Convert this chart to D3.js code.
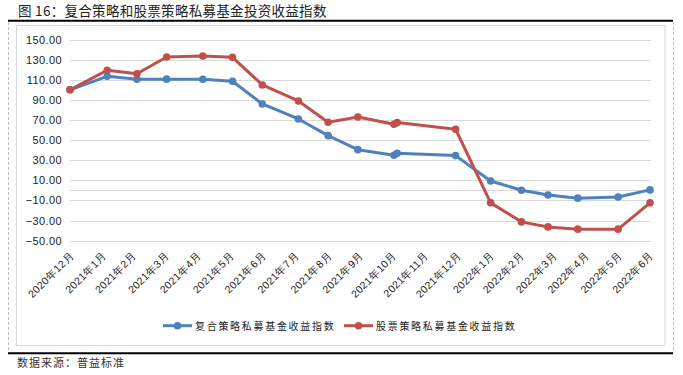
<!DOCTYPE html>
<html><head><meta charset="utf-8">
<script src="https://cdn.jsdelivr.net/npm/d3@7"></script>
<style>
body{margin:0;background:#fff;}
svg{display:block;font-family:"Noto Sans CJK SC","Noto Sans",sans-serif;}
</style></head>
<body>
<svg id="c" width="683" height="375"></svg>
<script>
const title = "图 16：复合策略和股票策略私募基金投资收益指数";
const source = "数据来源：普益标准";
const seriesNames = ["复合策略私募基金收益指数", "股票策略私募基金收益指数"];
const dates = ["2020-12-31","2021-02-04","2021-03-04","2021-04-01","2021-05-05","2021-06-02","2021-06-30","2021-08-03","2021-08-31","2021-09-28","2021-11-01","2021-11-04","2021-12-29","2022-01-31","2022-03-01","2022-03-26","2022-04-23","2022-05-31","2022-06-30"];
const compositeValues = [100, 113.4, 110.5, 110.6, 110.5, 108.5, 85.9, 71.0, 54.4, 40.5, 35.0, 37.0, 34.6, 9.4, 0.2, -4.5, -7.7, -6.5, 0.5];
const stockValues = [100, 119.4, 116.0, 132.6, 133.6, 132.3, 104.8, 88.9, 67.7, 73.0, 65.8, 67.4, 60.8, -12.4, -31.3, -36.3, -38.5, -38.5, -12.4];
const tickDates = ["2020-12-31","2021-01-31","2021-02-28","2021-03-31","2021-04-30","2021-05-31","2021-06-30","2021-07-31","2021-08-31","2021-09-30","2021-10-31","2021-11-30","2021-12-31","2022-01-31","2022-02-28","2022-03-31","2022-04-30","2022-05-31","2022-06-30"];
const tickLabels = ["2020年12月","2021年1月","2021年2月","2021年3月","2021年4月","2021年5月","2021年6月","2021年7月","2021年8月","2021年9月","2021年10月","2021年11月","2021年12月","2022年1月","2022年2月","2022年3月","2022年4月","2022年5月","2022年6月"];
const yTicks = [-50,-30,-10,10,30,50,70,90,110,130,150];
const colors = ["#4f81bd", "#c0504d"];

const parse = d3.timeParse("%Y-%m-%d");
const svg = d3.select("#c");

// frame
svg.append("text").attr("x",18).attr("y",16).attr("font-size",13.5).attr("fill","#222")
  .attr("letter-spacing",0.3).text(title);
svg.append("line").attr("x1",8).attr("x2",673).attr("y1",20.8).attr("y2",20.8).attr("stroke","#000").attr("stroke-width",2);
svg.append("line").attr("x1",8).attr("x2",673).attr("y1",353.3).attr("y2",353.3).attr("stroke","#000").attr("stroke-width",2);
[8.5,673.5].forEach(x=>svg.append("line").attr("x1",x).attr("x2",x).attr("y1",22).attr("y2",352)
  .attr("stroke","#bfbfbf").attr("stroke-dasharray","3,2"));
svg.append("rect").attr("x",16.5).attr("y",25.5).attr("width",648.5).attr("height",320)
  .attr("fill","none").attr("stroke","#d9d9d9");
svg.append("text").attr("x",17).attr("y",367).attr("font-size",11).attr("fill","#333")
  .attr("letter-spacing",1).text(source);

const x = d3.scaleTime().domain([parse(dates[0]), parse(dates[dates.length-1])]).range([70, 650]);
const y = d3.scaleLinear().domain([-50,150]).range([240.7, 39.5]);

// grid
const g = svg.append("g");
g.selectAll("line.grid").data(yTicks).enter().append("line")
  .attr("x1",70).attr("x2",651).attr("y1",d=>Math.round(y(d))+0.5).attr("y2",d=>Math.round(y(d))+0.5)
  .attr("stroke","#d9d9d9");
g.append("line").attr("x1",70).attr("x2",651).attr("y1",Math.round(y(0))+0.5).attr("y2",Math.round(y(0))+0.5)
  .attr("stroke","#d9d9d9");

// y axis labels
const yAxis = d3.axisLeft(y).tickValues(yTicks).tickSize(0).tickPadding(0).tickFormat(d3.format(".2f"));
const ya = svg.append("g").attr("transform","translate(62,0)").call(yAxis);
ya.select(".domain").remove();
ya.selectAll("text").attr("font-size",11).attr("fill","#222").attr("letter-spacing",0.4)
  .attr("font-family","'Liberation Sans','Noto Sans',sans-serif");

// x axis labels
const xAxis = d3.axisBottom(x).tickValues(tickDates.map(parse)).tickSize(0)
  .tickFormat((d,i)=>tickLabels[i]);
const xa = svg.append("g").attr("transform","translate(0,"+y(0)+")").call(xAxis);
xa.select(".domain").remove();
xa.selectAll(".tick text")
  .attr("font-size",10.5).attr("fill","#222").attr("letter-spacing",0.3)
  .attr("text-anchor","end").attr("dy",0)
  .attr("transform","translate(4,66) rotate(-45)").attr("y",0).attr("x",0);

// lines
const series = [compositeValues, stockValues];
const line = d3.line().x((d,i)=>x(parse(dates[i]))).y(d=>y(d));
series.forEach((vals,k)=>{
  svg.append("path").datum(vals).attr("d",line).attr("fill","none")
    .attr("stroke",colors[k]).attr("stroke-width",3).attr("stroke-linejoin","round");
  svg.selectAll("circle.s"+k).data(vals).enter().append("circle")
    .attr("cx",(d,i)=>x(parse(dates[i]))).attr("cy",d=>y(d)).attr("r",3.8).attr("fill",colors[k]);
});

// legend
const legX = [163, 344];
seriesNames.forEach((n,k)=>{
  const lg = svg.append("g").attr("transform","translate("+legX[k]+",325.7)");
  lg.append("line").attr("x1",0).attr("x2",29).attr("stroke",colors[k]).attr("stroke-width",3);
  lg.append("circle").attr("cx",14.5).attr("r",3.8).attr("fill",colors[k]);
  lg.append("text").attr("x",32).attr("y",4).attr("font-size",10).attr("letter-spacing",1.7)
    .attr("fill","#222").text(n);
});
</script>
</body></html>
